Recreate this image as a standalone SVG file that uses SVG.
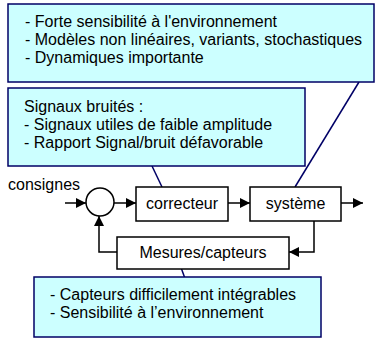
<svg xmlns="http://www.w3.org/2000/svg" width="376" height="345" viewBox="0 0 376 345">
<style>
text{font-family:"Liberation Sans",Arial,sans-serif;font-size:16px;fill:#000}
.call{fill:#ccffff;stroke:#000066;stroke-width:1.5}
.blk{fill:#fff;stroke:#000;stroke-width:1.5}
.wire{fill:none;stroke:#000;stroke-width:1.5}
.lead{fill:none;stroke:#000066;stroke-width:1.5}
.c{text-anchor:middle}
</style>
<defs>
<marker id="ah" viewBox="0 0 10 10" refX="10" refY="5" markerWidth="10" markerHeight="10" markerUnits="userSpaceOnUse" orient="auto">
<path d="M0,0 L10,5 L0,10 Z" fill="#000"/>
</marker>
</defs>
<rect width="376" height="345" fill="#fff"/>
<g id="connectors">
<path class="wire" d="M65,203 L86,203" marker-end="url(#ah)"/>
<path class="wire" d="M114,203 L136,203" marker-end="url(#ah)"/>
<path class="wire" d="M228,203 L250,203" marker-end="url(#ah)"/>
<path class="wire" d="M341,203 L363,203" marker-end="url(#ah)"/>
<path class="wire" d="M314,221 L314,252 L289,252" marker-end="url(#ah)"/>
<path class="wire" d="M117,252 L99,252 L99,216" marker-end="url(#ah)"/>
<path class="lead" d="M152,166 L162,187"/>
<path class="lead" d="M359,82 L295,187"/>
<path class="lead" d="M179,262 L187,284"/>
</g>
<g id="note-top">
<rect class="call" x="8" y="4" width="366" height="78"/>
<text x="25" y="27">- Forte sensibilité à l'environnement</text>
<text x="25" y="45">- Modèles non linéaires, variants, stochastiques</text>
<text x="25" y="63">- Dynamiques importante</text>
</g>
<g id="note-signaux">
<rect class="call" x="8" y="88" width="297" height="78"/>
<text x="24" y="112">Signaux bruités :</text>
<text x="24" y="130">- Signaux utiles de faible amplitude</text>
<text x="24" y="148">- Rapport Signal/bruit défavorable</text>
</g>
<g id="consignes"><text x="8" y="190">consignes</text></g>
<g id="sum"><circle class="blk" cx="100" cy="202" r="14"/></g>
<g id="correcteur">
<rect class="blk" x="136" y="187" width="92" height="34"/>
<text class="c" x="182" y="209">correcteur</text>
</g>
<g id="systeme">
<rect class="blk" x="250" y="187" width="91" height="34"/>
<text class="c" x="295.5" y="209">système</text>
</g>
<g id="mesures">
<rect class="blk" x="117" y="237" width="172" height="32"/>
<text class="c" x="203" y="258">Mesures/capteurs</text>
</g>
<g id="note-capteurs">
<rect class="call" x="34" y="277" width="287" height="60"/>
<text x="50" y="300">- Capteurs difficilement intégrables</text>
<text x="50" y="318">- Sensibilité à l’environnement</text>
</g>
</svg>
